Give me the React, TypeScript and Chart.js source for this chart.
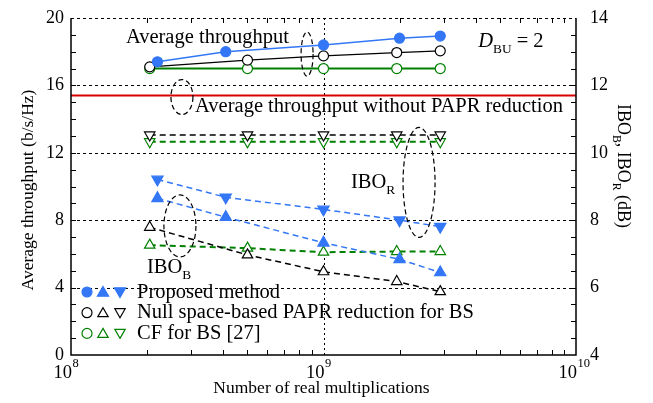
import React, { useEffect, useRef } from 'react';
import { Chart, registerables } from 'chart.js';

Chart.register(...registerables);

const FONT = "'Liberation Serif', 'Times New Roman', Times, serif";
const BLUE = 'rgb(51,119,246)';
const BLACK = '#000000';
const GREEN = 'rgb(0,128,0)';
const RED = 'rgb(220,0,0)';

// x positions (number of real multiplications)
const xProposed = [2.2e8, 4.1e8, 1.0e9, 2.0e9, 2.9e9];
const xBaseline = [2.05e8, 5.0e8, 1.0e9, 1.95e9, 2.9e9];

// average throughput (b/s/Hz), left axis
const thrProposed = [17.4, 18.0, 18.4, 18.8, 18.93];
const thrNull = [17.1, 17.5, 17.75, 17.95, 18.05];
const thrCF = [17.0, 17.0, 17.0, 17.0, 17.0];
const thrNoPAPR = [15.4, 15.4];
const xNoPAPR = [1e8, 1e10];

// IBO (dB), right axis
const iboRProposed = [9.21, 8.68, 8.32, 8.0, 7.81];
const iboBProposed = [8.65, 8.09, 7.33, 6.84, 6.45];
const iboRNull = [10.53, 10.53, 10.53, 10.53, 10.53];
const iboRCF = [10.33, 10.33, 10.33, 10.33, 10.33];
const iboBNull = [7.79, 6.97, 6.47, 6.18, 5.88];
const iboBCF = [7.26, 7.17, 7.05, 7.07, 7.07];

// axes
const leftRange = [0, 20];
const rightRange = [4, 14];
const xRange = [1e8, 1e10];
const leftGrid = [4, 8, 12, 16, 20];
const xGrid = [1e9];
const xDecades = [8, 9, 10];

const legendRows = [
  { label: 'Proposed method', color: BLUE, filled: true },
  { label: 'Null space-based PAPR reduction for BS', color: BLACK, filled: false },
  { label: 'CF for BS [27]', color: GREEN, filled: false },
];

type Part = { t: string; sub?: boolean; sup?: boolean; italic?: boolean };

const pts = (xs: number[], ys: number[]) => xs.map((x, i) => ({ x, y: ys[i] }));

function setFont(ctx: CanvasRenderingContext2D, size: number, italic?: boolean) {
  ctx.font = `${italic ? 'italic ' : ''}${size}px ${FONT}`;
}

function partSize(p: Part, size: number) {
  return p.sub || p.sup ? size * 0.65 : size;
}

function richWidth(ctx: CanvasRenderingContext2D, parts: Part[], size: number) {
  let w = 0;
  for (const p of parts) {
    setFont(ctx, partSize(p, size), p.italic);
    w += ctx.measureText(p.t).width;
  }
  return w;
}

function drawRich(
  ctx: CanvasRenderingContext2D,
  parts: Part[],
  x: number,
  y: number,
  size: number,
  align: 'left' | 'center' | 'right' = 'left'
) {
  const w = richWidth(ctx, parts, size);
  let cx = align === 'left' ? x : align === 'center' ? x - w / 2 : x - w;
  ctx.textAlign = 'left';
  ctx.textBaseline = 'alphabetic';
  for (const p of parts) {
    const s = partSize(p, size);
    setFont(ctx, s, p.italic);
    const dy = p.sub ? size * 0.3 : p.sup ? -size * 0.4 : 0;
    ctx.fillText(p.t, cx, y + dy);
    cx += ctx.measureText(p.t).width;
  }
}

function marker(
  ctx: CanvasRenderingContext2D,
  kind: 'circle' | 'up' | 'down',
  x: number,
  y: number,
  r: number,
  color: string,
  filled: boolean
) {
  ctx.beginPath();
  if (kind === 'circle') {
    ctx.arc(x, y, r, 0, Math.PI * 2);
  } else {
    const s = kind === 'up' ? 1 : -1;
    ctx.moveTo(x, y - s * r);
    ctx.lineTo(x + r * 0.866, y + (s * r) / 2);
    ctx.lineTo(x - r * 0.866, y + (s * r) / 2);
    ctx.closePath();
  }
  ctx.fillStyle = filled ? color : '#ffffff';
  ctx.fill();
  ctx.lineWidth = 1.2;
  ctx.strokeStyle = color;
  ctx.stroke();
}

// annotations in data coordinates
const annoTexts: { parts: Part[]; x: number; y: number; axis: 'y' | 'y2'; size: number }[] = [
  { parts: [{ t: 'Average throughput' }], x: 1.65e8, y: 18.49, axis: 'y', size: 20.5 },
  { parts: [{ t: 'D', italic: true }, { t: 'BU', sub: true }, { t: ' = 2' }], x: 4.1e9, y: 18.3, axis: 'y', size: 20.5 },
  { parts: [{ t: 'Average throughput without PAPR reduction' }], x: 3.1e8, y: 14.42, axis: 'y', size: 20.5 },
  { parts: [{ t: 'IBO' }, { t: 'R', sub: true }], x: 1.285e9, y: 8.96, axis: 'y2', size: 20.5 },
  { parts: [{ t: 'IBO' }, { t: 'B', sub: true }], x: 2.0e8, y: 6.43, axis: 'y2', size: 20.5 },
];
const annoEllipses: { x: number; y: number; axis: 'y' | 'y2'; rx: number; ry: number }[] = [
  { x: 8.61e8, y: 17.86, axis: 'y', rx: 6, ry: 22 },
  { x: 2.75e8, y: 15.31, axis: 'y', rx: 11, ry: 17.5 },
  { x: 2.39e9, y: 9.12, axis: 'y2', rx: 16, ry: 55 },
  { x: 2.7e8, y: 7.83, axis: 'y2', rx: 16, ry: 31 },
];

const deco = {
  id: 'deco',
  beforeDatasetsDraw(chart: any) {
    const { ctx, chartArea: a, scales } = chart;
    ctx.save();
    ctx.strokeStyle = '#000';
    ctx.lineWidth = 1;
    ctx.setLineDash([3, 3]);
    for (const v of leftGrid) {
      const y = Math.round(scales.y.getPixelForValue(v)) + 0.5;
      ctx.beginPath();
      ctx.moveTo(a.left, y);
      ctx.lineTo(a.right, y);
      ctx.stroke();
    }
    ctx.setLineDash([2, 3]);
    for (const v of xGrid) {
      const x = Math.round(scales.x.getPixelForValue(v)) + 0.5;
      ctx.beginPath();
      ctx.moveTo(x, a.top);
      ctx.lineTo(x, a.bottom);
      ctx.stroke();
    }
    ctx.restore();
  },
  afterDatasetsDraw(chart: any) {
    const { ctx, chartArea: a, scales } = chart;
    const sx = scales.x;
    const sy = scales.y;
    const sy2 = scales.y2;
    ctx.save();
    ctx.setLineDash([]);
    ctx.strokeStyle = '#000';
    // frame (left, bottom, right)
    ctx.lineWidth = 1.5;
    ctx.beginPath();
    ctx.moveTo(a.left, a.top);
    ctx.lineTo(a.left, a.bottom);
    ctx.lineTo(a.right, a.bottom);
    ctx.lineTo(a.right, a.top);
    ctx.stroke();
    // ticks
    ctx.lineWidth = 1;
    const TL = 5;
    ctx.beginPath();
    for (let v = leftRange[0] + 1; v < leftRange[1]; v++) {
      const y = Math.round(sy.getPixelForValue(v)) + 0.5;
      ctx.moveTo(a.left, y);
      ctx.lineTo(a.left + TL, y);
    }
    for (let v = rightRange[0] + 0.5; v < rightRange[1]; v += 0.5) {
      const y = Math.round(sy2.getPixelForValue(v)) + 0.5;
      ctx.moveTo(a.right, y);
      ctx.lineTo(a.right - TL, y);
    }
    for (const d of [8, 9]) {
      for (let m = 2; m <= 9; m++) {
        const x = Math.round(sx.getPixelForValue(m * Math.pow(10, d))) + 0.5;
        ctx.moveTo(x, a.bottom);
        ctx.lineTo(x, a.bottom - TL);
        ctx.moveTo(x, a.top);
        ctx.lineTo(x, a.top + TL);
      }
    }
    ctx.stroke();

    ctx.fillStyle = '#000';
    // x tick labels 10^n
    for (const d of xDecades) {
      const x = sx.getPixelForValue(Math.pow(10, d));
      setFont(ctx, 18.5);
      ctx.textAlign = 'right';
      ctx.textBaseline = 'alphabetic';
      ctx.fillText('10', x + 1, a.bottom + 23);
      setFont(ctx, 12.5);
      ctx.textAlign = 'left';
      ctx.fillText(String(d), x + 1.5, a.bottom + 12);
    }

    // axis titles
    drawRich(ctx, [{ t: 'Number of real multiplications' }], (a.left + a.right) / 2 - 2, a.bottom + 38, 17.5, 'center');

    ctx.save();
    ctx.translate(33, 190);
    ctx.rotate(-Math.PI / 2);
    drawRich(ctx, [{ t: 'Average throughput (b/s/Hz)' }], 0, 0, 17.5, 'center');
    ctx.restore();

    ctx.save();
    ctx.translate(618, 166);
    ctx.rotate(Math.PI / 2);
    drawRich(
      ctx,
      [{ t: 'IBO' }, { t: 'B', sub: true }, { t: ', IBO' }, { t: 'R', sub: true }, { t: ' (dB)' }],
      0,
      0,
      18,
      'center'
    );
    ctx.restore();

    // annotations
    for (const t of annoTexts) {
      const x = sx.getPixelForValue(t.x);
      const y = scales[t.axis].getPixelForValue(t.y);
      drawRich(ctx, t.parts, x, y, t.size, 'left');
    }
    ctx.lineWidth = 1.2;
    ctx.setLineDash([5, 3]);
    for (const e of annoEllipses) {
      const x = sx.getPixelForValue(e.x);
      const y = scales[e.axis].getPixelForValue(e.y);
      ctx.beginPath();
      ctx.ellipse(x, y, e.rx, e.ry, 0, 0, Math.PI * 2);
      ctx.stroke();
    }
    ctx.setLineDash([]);

    // legend
    legendRows.forEach((row, i) => {
      const my = a.bottom - 63 + i * 20.7;
      const r = row.filled ? 6.5 : 6;
      marker(ctx, 'circle', a.left + 16, my, 5, row.color, row.filled);
      marker(ctx, 'up', a.left + 32, my + 1, r, row.color, row.filled);
      marker(ctx, 'down', a.left + 49, my - 1, r, row.color, row.filled);
      ctx.fillStyle = '#000';
      drawRich(ctx, [{ t: row.label }], a.left + 66, my + 5.5, 20.5, 'left');
    });
    ctx.restore();
  },
};

function App() {
  const ref = useRef<HTMLCanvasElement | null>(null);

  useEffect(() => {
    document.body.style.margin = '0';
    const canvas = ref.current;
    if (!canvas) return;

    const solidCircle = (label: string, xs: number[], ys: number[], color: string, filled: boolean, w: number) => ({
      label,
      data: pts(xs, ys),
      yAxisID: 'y',
      borderColor: color,
      borderWidth: w,
      pointStyle: 'circle',
      pointRadius: 5,
      pointBorderWidth: 1.2,
      pointBackgroundColor: filled ? color : '#ffffff',
      pointBorderColor: color,
      tension: 0,
    });
    const dashedTri = (
      label: string,
      xs: number[],
      ys: number[],
      color: string,
      filled: boolean,
      down: boolean,
      w: number
    ) => ({
      label,
      data: pts(xs, ys),
      yAxisID: 'y2',
      borderColor: color,
      borderWidth: w,
      borderDash: [6, 4],
      pointStyle: 'triangle',
      pointRotation: down ? 180 : 0,
      pointRadius: filled ? 6.5 : 6,
      pointBorderWidth: 1.2,
      pointBackgroundColor: filled ? color : '#ffffff',
      pointBorderColor: color,
      tension: 0,
    });

    const datasets: any[] = [
      solidCircle('Proposed throughput', xProposed, thrProposed, BLUE, true, 1.5),
      solidCircle('Null space throughput', xBaseline, thrNull, BLACK, false, 1.2),
      solidCircle('CF throughput', xBaseline, thrCF, GREEN, false, 2),
      dashedTri('Proposed IBO_R', xProposed, iboRProposed, BLUE, true, true, 1.5),
      dashedTri('Proposed IBO_B', xProposed, iboBProposed, BLUE, true, false, 1.5),
      dashedTri('Null space IBO_R', xBaseline, iboRNull, BLACK, false, true, 1.5),
      dashedTri('CF IBO_R', xBaseline, iboRCF, GREEN, false, true, 2),
      dashedTri('Null space IBO_B', xBaseline, iboBNull, BLACK, false, false, 1.5),
      dashedTri('CF IBO_B', xBaseline, iboBCF, GREEN, false, false, 2),
      {
        label: 'Without PAPR reduction',
        data: pts(xNoPAPR, thrNoPAPR),
        yAxisID: 'y',
        borderColor: RED,
        borderWidth: 2,
        pointRadius: 0,
      },
    ];

    const tickFont = { family: FONT, size: 18 };
    const hiddenGrid = (len: number) => ({
      display: true,
      drawOnChartArea: false,
      drawTicks: true,
      tickLength: len,
      tickColor: 'rgba(0,0,0,0)',
      color: 'rgba(0,0,0,0)',
    });
    const chart = new Chart(canvas, {
      type: 'line',
      data: { datasets },
      options: {
        responsive: false,
        animation: false,
        devicePixelRatio: 1,
        layout: { padding: { top: 18, left: 0, right: 0, bottom: 0 } },
        plugins: { legend: { display: false }, tooltip: { enabled: false } },
        scales: {
          x: {
            type: 'logarithmic',
            min: xRange[0],
            max: xRange[1],
            position: 'bottom',
            ticks: { display: false },
            grid: { display: false, drawTicks: false },
            border: { display: false },
            afterFit: (s: any) => {
              s.height = 48;
            },
          },
          y: {
            type: 'linear',
            position: 'left',
            min: leftRange[0],
            max: leftRange[1],
            ticks: { stepSize: 4, font: tickFont, color: '#000', padding: 0 },
            grid: hiddenGrid(7),
            border: { display: false },
            afterFit: (s: any) => {
              s.width = 71;
            },
          },
          y2: {
            type: 'linear',
            position: 'right',
            min: rightRange[0],
            max: rightRange[1],
            ticks: { stepSize: 2, font: tickFont, color: '#000', padding: 0 },
            grid: hiddenGrid(14),
            border: { display: false },
            afterFit: (s: any) => {
              s.width = 77;
            },
          },
        },
      } as any,
      plugins: [deco],
    });
    return () => chart.destroy();
  }, []);

  return (
    <div style={{ position: 'absolute', left: 0, top: 0, width: 653, height: 403, background: '#fff' }}>
      <canvas ref={ref} width={653} height={403} style={{ display: 'block', width: 653, height: 403 }} />
    </div>
  );
}

export default App;
